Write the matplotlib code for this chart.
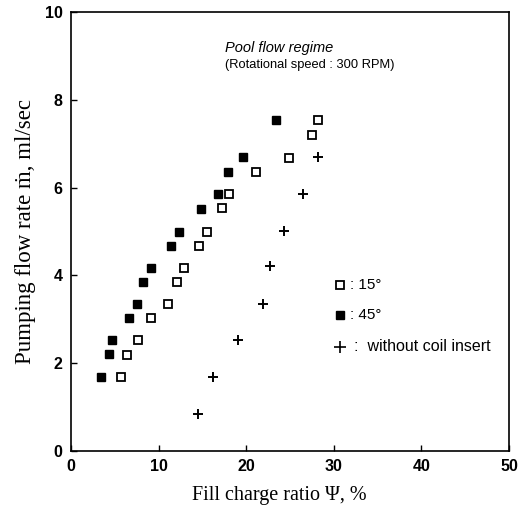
import matplotlib
matplotlib.use("Agg")
import matplotlib.pyplot as plt

# Data
x_15 = [5.67, 6.43, 7.65, 9.09, 11.03, 12.1, 12.86, 14.57, 15.56, 17.24, 18.04, 21.08, 24.92, 27.51, 28.16]
y_15 = [1.69, 2.19, 2.54, 3.02, 3.35, 3.85, 4.18, 4.68, 5.00, 5.53, 5.85, 6.36, 6.68, 7.20, 7.54]

x_45 = [3.42, 4.34, 4.64, 6.58, 7.49, 8.26, 9.09, 11.38, 12.33, 14.80, 16.78, 17.96, 19.6, 23.4]
y_45 = [1.69, 2.20, 2.54, 3.02, 3.35, 3.86, 4.18, 4.68, 5.00, 5.52, 5.85, 6.36, 6.69, 7.54]

x_nc = [14.46, 16.25, 19.06, 21.88, 22.72, 24.3, 26.45, 28.2]
y_nc = [0.84, 1.68, 2.54, 3.36, 4.21, 5.01, 5.85, 6.69]

x_ticks = [0, 10, 20, 30, 40, 50]
y_ticks = [0, 2, 4, 6, 8, 10]

fig = plt.figure(figsize=(5.19, 5.12), dpi=100)
ax = fig.add_axes([0.1368, 0.1191, 0.8439, 0.8575])

ax.plot(x_15, y_15, linestyle="none", marker="s", markersize=6.3,
        markerfacecolor="white", markeredgecolor="black", markeredgewidth=1.3)
ax.plot(x_45, y_45, linestyle="none", marker="s", markersize=6.3,
        markerfacecolor="black", markeredgecolor="black")
ax.plot(x_nc, y_nc, linestyle="none", marker="+", markersize=7,
        markeredgecolor="black", markeredgewidth=1.4)

ax.set_xlim(0, 50)
ax.set_ylim(0, 10)
ax.set_xticks(x_ticks)
ax.set_yticks(y_ticks)
ax.tick_params(direction="in", length=4, width=1, top=False, right=False, pad=6)
for lbl in ax.get_xticklabels() + ax.get_yticklabels():
    lbl.set_fontfamily("Liberation Sans")
    lbl.set_fontweight("bold")
    lbl.set_fontsize(11.5)
for s in ax.spines.values():
    s.set_linewidth(1.2)

ax.set_xlabel("Fill charge ratio \u03a8, %", fontfamily="Liberation Serif", fontsize=14.5)
ax.xaxis.set_label_coords(0.475, -0.08)
ax.set_ylabel("Pumping flow rate \u1e41, ml/sec", fontfamily="Liberation Serif", fontsize=16.5, labelpad=6)

ax.text(17.6, 9.18, "Pool flow regime", fontfamily="Liberation Sans", fontstyle="italic",
        fontsize=10.5, va="center", ha="left")
ax.text(17.6, 8.79, "(Rotational speed : 300 RPM)", fontfamily="Liberation Sans",
        fontsize=9.3, va="center", ha="left")

# Legend (drawn as marks + labels, as in the reference)
leg_x = 30.7
ax.plot([leg_x], [3.78], linestyle="none", marker="s", markersize=6.3,
        markerfacecolor="white", markeredgecolor="black", markeredgewidth=1.3)
ax.plot([leg_x], [3.10], linestyle="none", marker="s", markersize=6.3,
        markerfacecolor="black", markeredgecolor="black")
ax.plot([leg_x], [2.37], linestyle="none", marker="+", markersize=8,
        markeredgecolor="black", markeredgewidth=1.2)
ax.text(leg_x + 1.2, 3.78, ": 15\u00b0", fontfamily="Liberation Sans", fontsize=11, va="center")
ax.text(leg_x + 1.2, 3.10, ": 45\u00b0", fontfamily="Liberation Sans", fontsize=11, va="center")
ax.text(leg_x + 1.6, 2.37, ":  without coil insert", fontfamily="Liberation Sans", fontsize=11.5, va="center")

fig.savefig("out.png", dpi=100)
